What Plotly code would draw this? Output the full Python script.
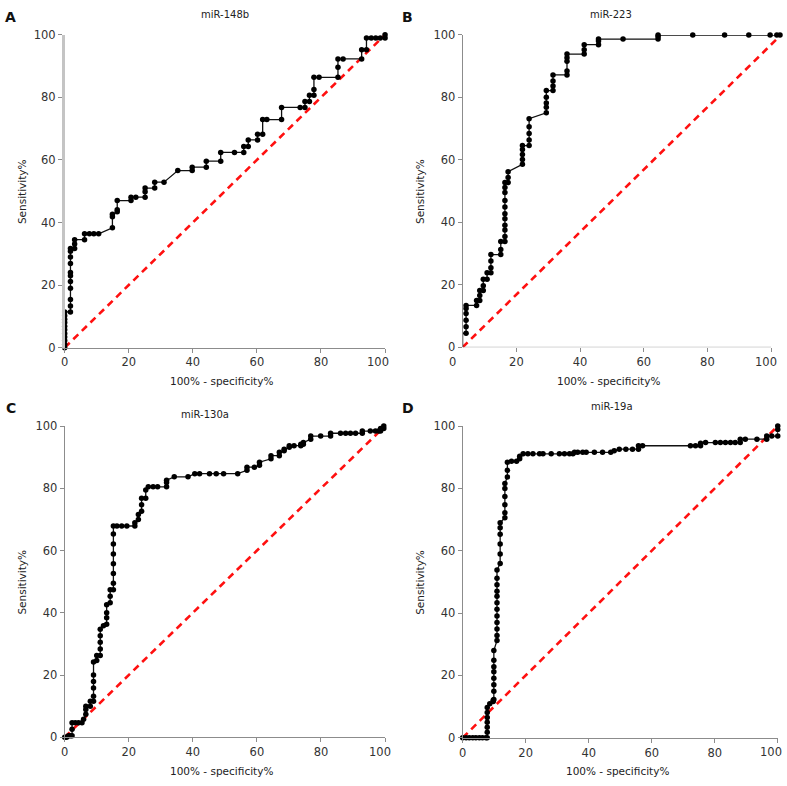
import plotly.graph_objects as go

# ---------------- data ----------------
titles = ["miR-148b", "miR-223", "miR-130a", "miR-19a"]
letters = ["A", "B", "C", "D"]
tick_vals = [0, 20, 40, 60, 80, 100]
tick_text = ["0", "20", "40", "60", "80", "100"]

a_x = [0, 0, 0, 0, 0, 0, 0, 0, 0, 0, 0,
       1.8, 1.8, 1.8, 1.8, 1.8, 1.8, 1.8, 1.8, 1.8, 1.8, 1.8,
       3.1, 3.1, 3.1, 6.2, 6.2, 7.7, 9.1, 10.6,
       14.9, 14.9, 14.9, 16.4, 16.4, 16.4, 20.7, 20.7, 22.2,
       25.1, 25.1, 25.1, 28.1, 28.1, 31.0, 35.3, 39.8, 39.8,
       44.2, 44.2, 48.7, 48.7, 53.0, 55.9, 55.9, 57.3, 57.3,
       60.2, 60.2, 61.8, 61.8, 63.1, 67.7, 67.7, 73.5, 75.0, 75.0,
       76.4, 76.4, 77.8, 77.8, 77.8, 79.4, 85.3, 85.3, 85.3, 86.9,
       92.7, 92.7, 94.2, 94.2, 95.7, 97.1, 98.5, 100, 100]
a_y = [0, 1.1, 2.3, 3.4, 4.5, 5.7, 6.8, 8.0, 9.1, 10.2, 11.4,
       11.4, 13.3, 15.4, 19.0, 21.1, 23.0, 24.0, 26.9, 29.0, 30.8, 31.7,
       31.7, 33.1, 34.5, 34.5, 36.4, 36.4, 36.4, 36.4,
       38.3, 41.8, 42.6, 43.4, 44.1, 47.0, 47.0, 48.1, 48.1,
       48.1, 49.8, 51.0, 51.0, 52.9, 52.9, 56.6, 56.6, 57.7,
       57.7, 59.6, 59.6, 62.4, 62.4, 62.4, 64.3, 64.3, 66.4,
       66.4, 68.2, 68.2, 72.9, 72.9, 72.9, 76.8, 76.8, 76.8, 78.7,
       78.7, 80.7, 80.7, 82.5, 86.4, 86.4, 86.4, 89.6, 92.3, 92.3,
       92.3, 95.2, 95.2, 99.0, 99.0, 99.0, 99.0, 99.0, 100]

b_x = [3.1, 3.1, 3.1, 3.1,
       4.2, 4.2, 4.2, 4.2, 4.2, 4.2,
       7.5, 7.5, 8.5, 8.5, 8.5, 9.6, 9.6, 9.6, 10.8, 10.8,
       12.0, 12.0, 12.0, 12.0, 15.1, 15.1, 15.1,
       16.4, 16.4, 16.4, 16.4, 16.4, 16.4, 16.4, 16.4, 16.4, 16.4, 16.4,
       17.4, 17.4, 17.4,
       21.9, 21.9, 21.9, 21.9, 21.9,
       24.0, 24.0, 24.0, 24.0, 24.0,
       29.4, 29.4, 29.4, 29.4, 29.4,
       31.5, 31.5, 31.5, 31.5,
       35.9, 35.9, 35.9, 35.9, 35.9,
       41.3, 41.3, 41.3, 45.8, 45.8, 45.8, 53.5,
       64.5, 64.5, 64.5, 75.4, 85.4, 93.0, 99.7, 101.8, 102.8]
b_y = [0, 1.4, 2.9, 4.5,
       4.5, 6.6, 8.7, 10.8, 12.4, 13.4,
       13.4, 15.0, 15.0, 16.6, 18.2, 18.2, 19.7, 21.8, 21.8, 23.9,
       23.9, 25.5, 27.6, 29.7, 29.7, 31.3, 33.9,
       33.9, 35.5, 37.6, 39.1, 41.2, 42.8, 44.9, 47.0, 49.6, 51.2, 52.8,
       52.8, 54.4, 56.2,
       58.6, 60.1, 61.7, 63.3, 64.6,
       64.6, 66.4, 68.5, 70.6, 73.2,
       75.1, 76.9, 78.2, 80.1, 82.2,
       82.2, 83.7, 85.3, 87.2,
       87.2, 88.5, 91.6, 92.7, 93.9,
       93.9, 95.3, 96.9, 96.9, 98.1, 98.7, 98.7,
       98.7, 99.5, 100, 100, 100, 100, 100, 100, 100]

c_x = [0, 0.6, 1.2, 1.8, 2.3, 2.3, 2.3, 3.3, 4.3, 5.4, 5.9,
       6.6, 6.6, 6.6, 8.0, 8.0,
       9.0, 9.0, 9.0, 9.0, 9.0, 9.0, 10.0, 10.0,
       11.1, 11.1, 11.1, 11.1, 11.1, 12.1,
       13.1, 13.1, 13.1, 13.1, 14.2, 14.2, 14.2,
       15.2, 15.2, 15.2, 15.2, 15.2, 15.2, 15.2, 15.2,
       16.3, 17.8, 19.4, 21.9, 21.9, 23.0, 23.0,
       24.0, 24.0, 24.0, 25.3, 25.3, 26.1, 27.6, 29.0,
       31.8, 31.8, 31.8, 34.2, 38.5, 40.6, 42.1, 45.2, 47.3, 49.6, 54.0,
       56.9, 56.9, 59.2, 60.8, 60.8, 64.4, 64.4, 67.0, 67.0,
       68.5, 68.5, 70.1, 70.1, 71.6, 73.7, 73.7, 74.5, 74.5,
       76.8, 76.8, 79.9, 83.0, 83.0, 86.1, 87.7, 89.2, 90.8, 92.9, 92.9,
       95.4, 97.0, 98.0, 98.6, 98.6, 99.6, 99.6]
c_y = [0, 0, 0.5, 0.5, 0.5, 2.6, 4.7, 4.7, 4.7, 4.7, 5.8,
       7.4, 8.9, 10.0, 10.0, 11.6,
       11.6, 13.2, 15.8, 17.9, 20.0, 24.2, 24.7, 26.3,
       26.3, 28.4, 30.5, 32.6, 34.7, 35.8,
       36.3, 38.4, 40.0, 42.6, 43.2, 45.3, 47.4,
       47.4, 49.5, 52.6, 55.8, 58.9, 62.1, 65.3, 67.9,
       67.9, 67.9, 67.9, 67.9, 68.9, 70.0, 71.6,
       72.6, 74.7, 76.8, 76.8, 79.5, 80.5, 80.5, 80.5,
       80.5, 81.9, 82.6, 83.7, 83.7, 84.7, 84.7, 84.7, 84.7, 84.7, 84.7,
       85.8, 86.8, 86.8, 87.4, 88.4, 89.5, 90.5, 90.5, 91.6,
       92.1, 92.6, 93.2, 93.7, 93.7, 93.7, 94.2, 94.2, 94.7,
       95.8, 96.8, 96.8, 96.8, 97.7, 97.7, 97.7, 97.7, 97.7, 97.7, 98.4,
       98.4, 98.4, 98.4, 98.4, 99.2, 99.2, 100]

d_x = [0, 1.1, 2.1, 3.2, 4.2, 5.3, 6.3, 7.4,
       7.8, 7.8, 7.8, 7.8, 7.8, 7.8, 7.8, 8.6, 9.7, 9.7,
       9.9, 9.9, 9.9, 9.9, 9.9, 9.9, 9.9, 9.9,
       10.9, 10.9, 10.9, 10.9, 10.9, 10.9, 10.9, 10.9, 10.9, 10.9, 10.9, 10.9,
       11.9, 11.9, 11.9, 11.9, 11.9, 11.9,
       13.4, 13.4, 13.4, 13.4, 13.4, 13.4,
       14.2, 14.2, 14.2, 15.5, 17.1, 18.1, 18.1, 19.2,
       20.7, 22.3, 24.4, 25.5, 28.1, 30.7, 32.3, 33.9, 35.0, 35.5,
       36.5, 38.1, 39.2, 41.8, 44.4, 47.0, 48.1, 49.7, 51.8, 53.9,
       55.8, 55.8, 57.1, 72.3, 73.9, 75.5, 75.5, 77.1,
       80.2, 81.8, 83.4, 85.0, 86.5, 88.1, 88.1, 89.7, 93.4, 96.5, 96.5,
       98.1, 100, 100, 100]
d_y = [0, 0, 0, 0, 0, 0, 0, 0,
       0, 1.8, 3.4, 5.0, 6.5, 8.1, 9.7, 10.9, 11.6, 12.0,
       12.3, 14.9, 17.0, 19.1, 21.2, 22.8, 24.9, 28.0,
       31.2, 32.8, 34.9, 37.0, 39.1, 41.2, 43.3, 45.4, 47.0, 49.1, 51.2, 53.8,
       55.9, 59.0, 62.2, 65.3, 67.4, 69.0,
       70.6, 72.2, 74.8, 77.4, 80.0, 81.6,
       83.7, 85.8, 88.4, 88.7, 88.7, 89.5, 90.3, 91.1,
       91.1, 91.1, 91.1, 91.1, 91.1, 91.1, 91.1, 91.1, 91.1, 91.6,
       91.6, 91.6, 91.6, 91.6, 91.6, 91.6, 92.1, 92.6, 92.6, 92.6,
       92.6, 93.7, 93.7, 93.7, 93.7, 93.7, 94.5, 94.7,
       94.7, 94.7, 94.7, 94.7, 94.7, 94.7, 95.8, 95.8, 95.8, 95.8, 96.8,
       96.8, 96.8, 98.9, 100]

ref_x = [[0, 100], [3.1, 103.1], [0, 100], [0, 100]]
ref_y = [[0, 100], [0, 100], [0, 100], [0, 100]]

curves_x = [a_x, b_x, c_x, d_x]
curves_y = [a_y, b_y, c_y, d_y]

# ---------------- layout geometry ----------------
W, H = 787, 786
# plot areas in pixels: (left, right, top, bottom)
areas = [(61, 383, 28.3, 346.8),
         (461, 782, 28.5, 346.5),
         (61, 383, 426.7, 743.5),
         (461, 777.7, 426.7, 744.0)]
xranges = [[0, 100], [3.125, 103.44], [0, 100], [0, 100]]
# pixel centres of the "100" x tick labels (pulled inwards in the original)
label100_x = [376, 766, 378, 771]
TICKFONT = dict(size=11.5, color="#333")


def px(x):
    return x / W


def py(y):
    return 1 - y / H


fig = go.Figure()
layout = dict(autosize=True, margin=dict(l=0, r=0, t=0, b=0, pad=0),
              paper_bgcolor="white", plot_bgcolor="white", showlegend=False,
              font=dict(family="DejaVu Sans", color="#222"))
annotations = []
shapes = []

for i in range(4):
    sfx = "" if i == 0 else str(i + 1)
    xa, ya = "x" + sfx, "y" + sfx
    l, r, t, b = areas[i]
    axis_col = "#8c8c8c"
    yline_col = "#c4c4c4" if i == 0 else axis_col
    yline_w = 2.5 if i == 0 else 1
    layout["xaxis" + sfx] = dict(
        domain=[px(l), px(r)], range=xranges[i], anchor=ya,
        tickvals=tick_vals, ticktext=tick_text[:-1] + [""], ticks="outside", ticklen=4,
        tickcolor=axis_col, showline=(i != 1), linecolor=axis_col, linewidth=1,
        showgrid=False, zeroline=False, tickfont=TICKFONT)
    layout["yaxis" + sfx] = dict(
        domain=[py(b), py(t)], range=[0, 100], anchor=xa,
        tickvals=tick_vals, ticktext=tick_text, ticks="outside", ticklen=4,
        tickcolor=axis_col, showline=True, linecolor=yline_col, linewidth=yline_w,
        showgrid=False, zeroline=False, tickfont=TICKFONT)

    # reference diagonal
    fig.add_trace(go.Scatter(x=ref_x[i], y=ref_y[i], mode="lines", xaxis=xa, yaxis=ya,
                             line=dict(color="#ff1010", width=2.6, dash="7px,5px"),
                             cliponaxis=False, hoverinfo="skip"))
    # ROC curve
    fig.add_trace(go.Scatter(x=curves_x[i], y=curves_y[i], mode="lines+markers",
                             xaxis=xa, yaxis=ya, cliponaxis=False,
                             line=dict(color="#111", width=1.3),
                             marker=dict(color="#000", size=5.5)))

    # "100" x tick label
    annotations.append(dict(text=tick_text[-1], x=px(label100_x[i]), y=py(b + 15),
                            xref="paper", yref="paper", showarrow=False, font=TICKFONT,
                            xanchor="center", yanchor="middle"))

    cx = (l + r) / 2 if i != 1 else (451 + 771) / 2
    # x axis title
    annotations.append(dict(text="100% - specificity%", x=px(cx - 3), y=py(b + 34),
                            xref="paper", yref="paper", showarrow=False,
                            font=dict(size=10.5, color="#222"), xanchor="center", yanchor="middle"))
    # y axis title
    annotations.append(dict(text="Sensitivity%", x=px(l - 43), y=py((t + b) / 2),
                            xref="paper", yref="paper", showarrow=False, textangle=-90,
                            font=dict(size=10.5, color="#222"), xanchor="center", yanchor="middle"))

# panel titles
title_pos = [(222, 8), (610, 8), (202, 415), (611, 407)]
for (tx, ty), tt in zip(title_pos, titles):
    annotations.append(dict(text=tt, x=px(tx), y=py(ty), xref="paper", yref="paper",
                            showarrow=False, font=dict(size=10, color="#222"),
                            xanchor="center", yanchor="middle"))
# panel letters
letter_pos = [(7, 10), (406, 10), (7, 408), (406, 408)]
for (lx, ly), lt in zip(letter_pos, letters):
    annotations.append(dict(text="<b>%s</b>" % lt, x=px(lx), y=py(ly), xref="paper", yref="paper",
                            showarrow=False, font=dict(size=14, color="#111", family="DejaVu Sans"),
                            xanchor="center", yanchor="middle"))

# panel B: x axis line stops at 100 and its "0" label sits left of the y axis
shapes.append(dict(type="line", xref="x2", yref="y2", x0=xranges[1][0], x1=100, y0=0, y1=0,
                   line=dict(color="#8c8c8c", width=1)))
annotations.append(dict(text=tick_text[0], x=px(451), y=py(areas[1][3] + 15),
                        xref="paper", yref="paper", showarrow=False, font=TICKFONT,
                        xanchor="center", yanchor="middle"))

layout["annotations"] = annotations
layout["shapes"] = shapes
fig.update_layout(**layout)
fig.write_html(
    "out.html",
    default_width="100vw", default_height="100vh",
    config={"displayModeBar": False, "responsive": True},
    post_script=("document.documentElement.style.margin='0';"
                 "document.body.style.margin='0';document.body.style.overflow='hidden';"
                 "Plotly.Plots.resize(document.getElementById('{plot_id}'));"))
